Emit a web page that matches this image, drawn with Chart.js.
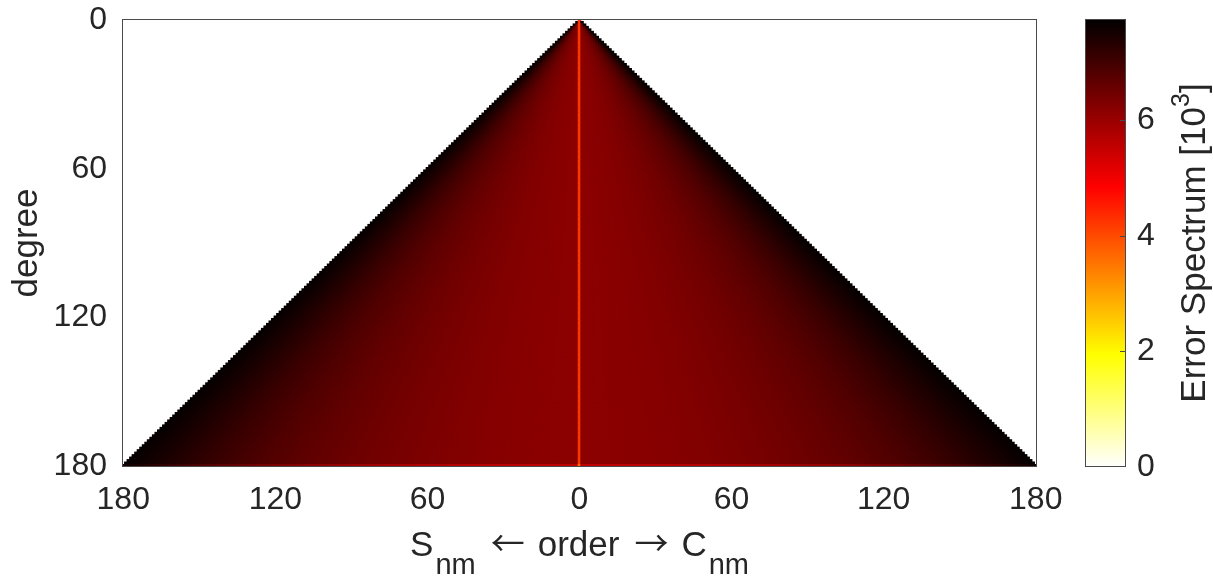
<!DOCTYPE html>
<html><head><meta charset="utf-8">
<script src="https://cdn.jsdelivr.net/npm/chart.js@4.4.1/dist/chart.umd.min.js"></script>
<style>html,body{margin:0;padding:0;background:#fff;overflow:hidden}#c{display:block}</style>
</head><body><canvas id="c" width="1213" height="578"></canvas>
<script>
// ---- data ----
const maxDegree = 180;
const orderTicks = [-180, -120, -60, 0, 60, 120, 180];
const orderTickLabels = ['180', '120', '60', '0', '60', '120', '180'];
const degreeTicks = [0, 60, 120, 180];
const colorTicks = [0, 2, 4, 6];
const colorMax = 7.75;
// error spectrum [10^3] versus |order|/degree
const profileRatio = [0, 0.1, 0.2, 0.3, 0.4, 0.5, 0.6, 0.7, 0.8, 0.9, 1.0];
const errorProfile = [6.15, 6.18, 6.22, 6.29, 6.38, 6.50, 6.65, 6.84, 7.09, 7.39, 7.69];
const errorProfileLastDegree = [5.55, 5.58, 5.63, 5.72, 5.83, 5.98, 6.18, 6.43, 6.75, 7.15, 7.60];
const zonalError = 4.2;
const zonalErrorLastDegree = 3.6;

const FONT = "'Liberation Sans', Arial, Helvetica, sans-serif";
const ARROW_FONT = "'Noto Sans CJK SC', 'DejaVu Sans', sans-serif";
const TXT = '#262626';

function hotR(v) {
  const f = Math.min(1, Math.max(0, v / colorMax));
  const t = 1 - f;
  const cl = x => Math.min(1, Math.max(0, x));
  const r = cl(t / 0.375), g = cl((t - 0.375) / 0.375), b = cl((t - 0.75) / 0.25);
  return 'rgb(' + Math.round(r * 255) + ',' + Math.round(g * 255) + ',' + Math.round(b * 255) + ')';
}
function lookup(prof, q) {
  for (let i = 0; i < profileRatio.length - 1; i++) {
    if (q <= profileRatio[i + 1]) {
      const a = (q - profileRatio[i]) / (profileRatio[i + 1] - profileRatio[i]);
      return prof[i] + a * (prof[i + 1] - prof[i]);
    }
  }
  return prof[prof.length - 1];
}

const points = [], colors = [];
for (let n = 0; n <= maxDegree; n++) {
  const last = n === maxDegree;
  for (let m = -n; m <= n; m++) {
    let v;
    if (m === 0) v = last ? zonalErrorLastDegree : zonalError;
    else v = lookup(last ? errorProfileLastDegree : errorProfile, Math.abs(m) / n);
    points.push({x: m, y: n});
    colors.push(hotR(v));
  }
}

function drawParts(ctx, parts, x) {
  parts.forEach(p => { ctx.font = p[1]; ctx.fillText(p[0], x, p[2]); x += ctx.measureText(p[0]).width + (p[3] || 0); });
}
function partsWidth(ctx, parts) {
  let w = 0;
  parts.forEach(p => { ctx.font = p[1]; w += ctx.measureText(p[0]).width + (p[3] || 0); });
  return w;
}

const decor = {
  id: 'decor',
  afterDraw(chart) {
    const ctx = chart.ctx, a = chart.chartArea;
    ctx.save();
    // axes box
    ctx.strokeStyle = '#4a4a4a'; ctx.lineWidth = 1;
    ctx.strokeRect(Math.round(a.left) + 0.5, Math.round(a.top) + 0.5, Math.round(a.right - a.left) - 1, Math.round(a.bottom - a.top) - 1);
    // colorbar
    const cb = chart.scales.cb;
    const y0 = cb.getPixelForValue(0), y1 = cb.getPixelForValue(colorMax);
    const bx0 = 1085, bx1 = 1126;
    const g = ctx.createLinearGradient(0, y0, 0, y1);
    g.addColorStop(0, '#ffffff'); g.addColorStop(0.25, '#ffff00'); g.addColorStop(0.625, '#ff0000'); g.addColorStop(1, '#000000');
    ctx.fillStyle = g;
    ctx.fillRect(bx0, y1, bx1 - bx0, y0 - y1);
    ctx.strokeStyle = '#4a4a4a';
    ctx.strokeRect(bx0 + 0.5, Math.round(y1) + 0.5, bx1 - bx0 - 1, Math.round(y0 - y1) - 1);
    ctx.beginPath();
    colorTicks.forEach(v => { if (v > 0) { const y = Math.round(cb.getPixelForValue(v)) + 0.5; ctx.moveTo(bx1 - 6, y); ctx.lineTo(bx1, y); } });
    ctx.stroke();
    // x title with subscripts
    ctx.fillStyle = TXT; ctx.textBaseline = 'alphabetic'; ctx.textAlign = 'left';
    const mainF = '35px ' + FONT, subF = '29px ' + FONT;
    ctx.font = '35px ' + ARROW_FONT;
    const aw = ctx.measureText('\u2192').width;
    const arrowF = (35 * 34 / aw).toFixed(1) + 'px ' + ARROW_FONT;
    const base = 556, sub = 574;
    const parts = [['S', mainF, base, 2], ['nm', subF, sub, 15], ['\u2190', arrowF, base, 13], ['order', mainF, base, 15],
                   ['\u2192', arrowF, base, 13], ['C', mainF, base, 2], ['nm', subF, sub, 0]];
    const tw = partsWidth(ctx, parts);
    drawParts(ctx, parts, (a.left + a.right) / 2 - tw / 2);
    // colorbar title rotated
    ctx.translate(1205, (y0 + y1) / 2);
    ctx.rotate(-Math.PI / 2);
    const cparts = [['Error Spectrum [10', mainF, 0, 0], ['3', '25px ' + FONT, -16, 0], [']', mainF, 0, 0]];
    drawParts(ctx, cparts, -partsWidth(ctx, cparts) / 2);
    ctx.restore();
  }
};

Chart.defaults.font.family = FONT;
Chart.defaults.color = TXT;

function noPad(s) { s.paddingTop = 0; s.paddingBottom = 0; s.paddingLeft = 0; s.paddingRight = 0; }

new Chart(document.getElementById('c'), {
  type: 'scatter',
  data: {datasets: [{
    data: points, parsing: false,
    pointStyle: 'rect', pointRadius: 2.5, pointBorderWidth: 0,
    pointBackgroundColor: colors, showLine: false
  }]},
  options: {
    responsive: false, animation: false, events: [],
    layout: {padding: {top: 19, left: 0, right: 0, bottom: 0}},
    plugins: {legend: {display: false}, tooltip: {enabled: false}},
    scales: {
      x: {
        type: 'linear', min: -maxDegree - 0.5, max: maxDegree + 0.5,
        afterBuildTicks: s => { s.ticks = orderTicks.map(v => ({value: v})); },
        ticks: {callback: (v) => orderTickLabels[orderTicks.indexOf(v)], font: {size: 32, lineHeight: 1}, color: TXT, padding: 17, maxRotation: 0, autoSkip: false},
        grid: {display: false, drawTicks: false}, border: {display: false},
        afterFit: s => { s.height = 578 - 467; noPad(s); }
      },
      y: {
        type: 'linear', reverse: true, min: -0.5, max: maxDegree + 0.5,
        afterBuildTicks: s => { s.ticks = degreeTicks.map(v => ({value: v})); },
        ticks: {font: {size: 32, lineHeight: 1}, color: TXT, padding: 15, autoSkip: false},
        grid: {display: false, drawTicks: false}, border: {display: false},
        title: {display: true, text: 'degree', font: {size: 35, lineHeight: 1.2}, color: TXT, padding: {top: 6, bottom: 0}},
        afterFit: s => { s.width = 122; noPad(s); }
      },
      cb: {
        axis: 'y', type: 'linear', position: 'right', min: 0, max: colorMax,
        afterBuildTicks: s => { s.ticks = colorTicks.map(v => ({value: v})); },
        ticks: {font: {size: 32, lineHeight: 1}, color: TXT, padding: 100, autoSkip: false},
        grid: {display: false, drawTicks: false}, border: {display: false},
        afterFit: s => { s.width = 1213 - 1037; noPad(s); }
      }
    }
  },
  plugins: [decor]
});
</script>
</body></html>
